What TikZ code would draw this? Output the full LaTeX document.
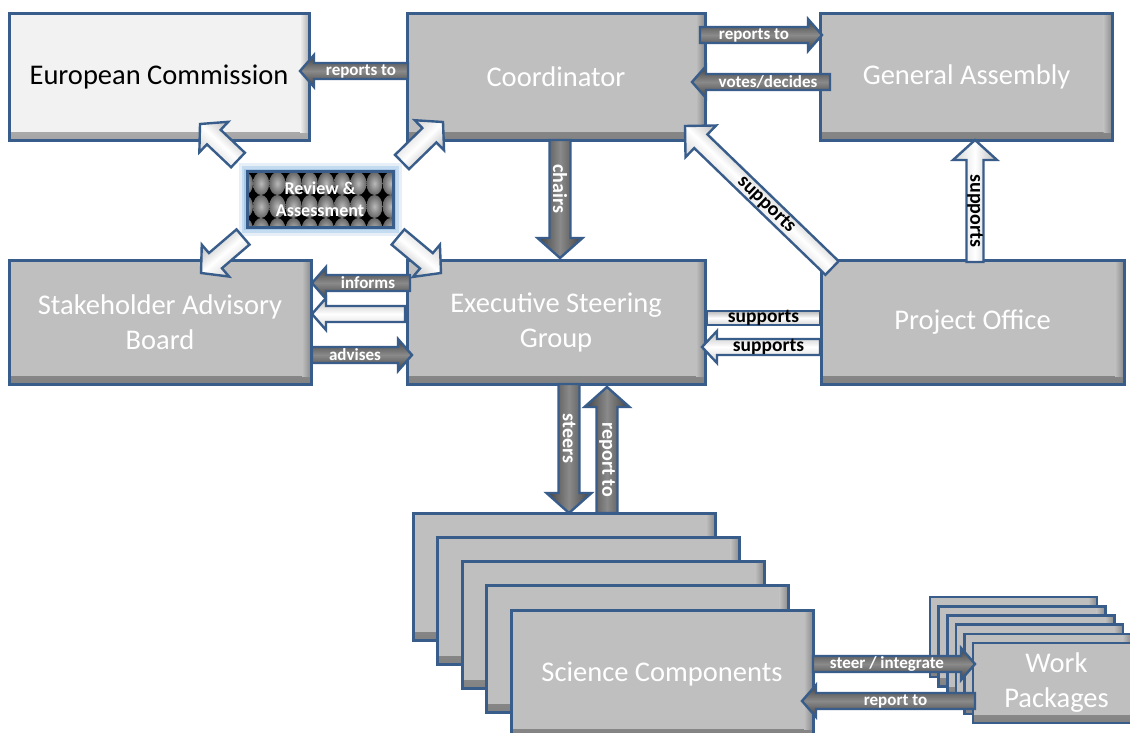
\documentclass[tikz,border=0pt]{standalone}
\usepackage{fontspec}
\setmainfont{Carlito}
\usetikzlibrary{calc}

\definecolor{boxgray}{HTML}{BFBFBF}
\definecolor{ecfill}{HTML}{F2F2F2}
\definecolor{edgeblue}{RGB}{56,93,138}
\definecolor{glowblue}{RGB}{157,195,230}
\definecolor{arrowdark}{HTML}{404040}
\definecolor{arrowmid}{HTML}{8A8A8A}

\tikzset{
  boxshade/.style={path picture={
    \shade[top color=#1, bottom color=#1!68!black]
      ([yshift=8pt]path picture bounding box.south west) rectangle (path picture bounding box.south east);
    \shade[left color=#1, right color=#1!72!black]
      ([xshift=-9pt]path picture bounding box.north east) rectangle ([yshift=8pt]path picture bounding box.south east);
  }},
  mainbox/.style={draw=edgeblue, line width=3pt, fill=boxgray, boxshade=boxgray,
    text=white, align=center, inner sep=0pt,
    font=\fontsize{28.5}{35}\selectfont},
  darkarrow/.style={draw=edgeblue, line width=2.4pt,
    top color=arrowdark, bottom color=arrowdark, middle color=arrowmid},
  lightarrow/.style={draw=edgeblue, line width=2.4pt,
    top color=gray!35, bottom color=gray!55, middle color=white},
  darkarrow label/.style={text=white, inner sep=0pt,
    font=\fontsize{17}{17}\selectfont\bfseries},
  lightarrow label/.style={text=black, inner sep=0pt,
    font=\fontsize{19.5}{19.5}\selectfont\bfseries},
  biglabel/.style={font=\fontsize{20}{20}\selectfont\bfseries},
  glow/.style={draw=glowblue, line width=#1},
}

% block arrow: #1 look, #2 tail, #3 tip, #4 shaft width, #5 head width,
% #6 head length, #7 label options, #8 label
\newcommand\barrow[8]{%
  \path let \p1=(#2), \p2=(#3),
    \n1={atan2(\y2-\y1,\x2-\x1)}, \n2={veclen(\x2-\x1,\y2-\y1)} in
    \pgfextra{\pgfmathsetmacro\arwA{\n1}\global\let\arwangle\arwA
              \pgfmathsetmacro\arwL{\n2}\global\let\arwlen\arwL};
  \begin{scope}[transform canvas={shift={(#2)},rotate=\arwangle}]
    \path[#1] (0pt,{-#4*0.5pt}) -- ({(\arwlen-#6)*1pt},{-#4*0.5pt})
      -- ({(\arwlen-#6)*1pt},{-#5*0.5pt}) -- ({\arwlen*1pt},0pt)
      -- ({(\arwlen-#6)*1pt},{#5*0.5pt}) -- ({(\arwlen-#6)*1pt},{#4*0.5pt})
      -- (0pt,{#4*0.5pt}) -- cycle;
    \node[#1 label,#7] at ({(\arwlen-#6)*0.5pt},0pt) {#8};
  \end{scope}}

\begin{document}
\begin{tikzpicture}[x=1pt,y=-1pt]
\useasboundingbox (0,0) rectangle (1130,733);
\fill[white] (0,0) rectangle (1130,733);

% governance boxes
\node[mainbox, fill=ecfill, boxshade=ecfill, text=black,
      minimum width=300pt, minimum height=127pt] (ec) at (159,77) {European Commission};
\node[mainbox, minimum width=298pt, minimum height=127pt] (coord) at (556,77) {Coordinator};
\node[mainbox, minimum width=292pt, minimum height=127pt] (ga) at (966.5,77) {General Assembly};
\node[mainbox, minimum width=302pt, minimum height=124pt] (sab) at (160,322.5) {Stakeholder Advisory\\Board};
\node[mainbox, minimum width=298pt, minimum height=124pt] (esg) at (556,322.5) {Executive Steering\\Group};
\node[mainbox, minimum width=303pt, minimum height=124pt] (po) at (972.5,322.5) {Project Office};

% review & assessment: soft glow, oval pattern, then the framed label
\draw[glow=17pt, opacity=0.25] (247,172) rectangle (393,227);
\draw[glow=11pt, opacity=0.45] (247,172) rectangle (393,227);
\draw[glow=6pt, opacity=0.7] (247,172) rectangle (393,227);
\begin{scope}
  \clip (247,172) rectangle (393,227);
  \fill[black] (247,172) rectangle (393,227);
  \foreach \i in {0,...,9} \foreach \j in {0,1,2}
    \shade[inner color=gray!55, outer color=gray!80!black]
      ({244.9+16.2*\i},{183.5+23*\j}) ellipse (8.1 and 11.5);
\end{scope}
\node[draw=edgeblue, line width=3pt, minimum width=146pt, minimum height=55pt,
      inner sep=0pt, align=center, text=white,
      font=\fontsize{18}{22}\selectfont\bfseries] (ra) at (320,199.5) {Review \&\\Assessment};

% science components stack
\foreach \k in {1,...,4}
  \node[mainbox, minimum width=302pt, minimum height=127pt] (sc\k)
    at ({564+24.5*(\k-1)},{576.5+24.3*(\k-1)}) {};
\node[mainbox, minimum width=302pt, minimum height=127pt] (sc5) at (662,673.7) {Science Components};

% work packages stack
\foreach \k in {1,...,5}
  \node[mainbox, line width=2.6pt, minimum width=167pt, minimum height=80pt] (wp\k)
    at ({1013.5+8.6*(\k-1)},{637+9.2*(\k-1)}) {};
\node[mainbox, line width=2.6pt, minimum width=167pt, minimum height=80pt] (wp6) at (1056.5,683) {Work\\Packages};

% connector end points
\coordinate (ec-rep-s) at (408,71);    \coordinate (ec-rep-e) at (300,71);
\coordinate (ga-rep-s) at (700,35);    \coordinate (ga-rep-e) at (822,35);
\coordinate (ga-vote-s) at (830,82);   \coordinate (ga-vote-e) at (692,82);
\coordinate (sab-inf-s) at (410,283);  \coordinate (sab-inf-e) at (312,283);
\coordinate (sab-out-s) at (405,314);  \coordinate (sab-out-e) at (312,314);
\coordinate (sab-adv-s) at (312,355);  \coordinate (sab-adv-e) at (412,355);
\coordinate (po-sup1-s) at (820,318);  \coordinate (po-sup1-e) at (707,318);
\coordinate (po-sup2-s) at (820,347);  \coordinate (po-sup2-e) at (702,347);
\coordinate (chairs-s) at (560,140);   \coordinate (chairs-e) at (560,258);
\coordinate (steers-s) at (569,384);   \coordinate (steers-e) at (569,513);
\coordinate (repto-s) at (607,513);    \coordinate (repto-e) at (607,387);
\coordinate (po-co-s) at (832,268);    \coordinate (po-co-e) at (685,126);
\coordinate (po-ga-s) at (975,262);    \coordinate (po-ga-e) at (975,140);
\coordinate (wp-st-s) at (813,664);    \coordinate (wp-st-e) at (975,664);
\coordinate (wp-rep-s) at (975,701);   \coordinate (wp-rep-e) at (802,701);
\coordinate (ra-ec-s) at (238,160);    \coordinate (ra-ec-e) at (200,124);
\coordinate (ra-co-s) at (402,162);    \coordinate (ra-co-e) at (443,122);
\coordinate (ra-sab-s) at (243,237);   \coordinate (ra-sab-e) at (201,273);
\coordinate (ra-esg-s) at (398,237);   \coordinate (ra-esg-e) at (441,273);

% horizontal connectors
\barrow{darkarrow}{ec-rep-s}{ec-rep-e}{16}{32}{14}{rotate=180}{reports to}
\barrow{darkarrow}{ga-rep-s}{ga-rep-e}{16}{32}{14}{}{reports to}
\barrow{darkarrow}{ga-vote-s}{ga-vote-e}{16}{32}{14}{rotate=180}{votes/decides}
\barrow{darkarrow}{sab-inf-s}{sab-inf-e}{16}{32}{14}{rotate=180}{informs}
\barrow{lightarrow}{sab-out-s}{sab-out-e}{16}{32}{14}{rotate=180}{}
\barrow{darkarrow}{sab-adv-s}{sab-adv-e}{16}{32}{14}{}{advises}
\barrow{lightarrow}{po-sup1-s}{po-sup1-e}{14}{14}{0}{rotate=180}{supports}
\barrow{lightarrow}{po-sup2-s}{po-sup2-e}{16}{32}{15}{rotate=180}{supports}
\barrow{darkarrow}{wp-st-s}{wp-st-e}{16}{32}{14}{}{steer / integrate}
\barrow{darkarrow}{wp-rep-s}{wp-rep-e}{16}{32}{14}{rotate=180}{report to}

% vertical and diagonal connectors
\barrow{darkarrow}{chairs-s}{chairs-e}{21}{45}{20}{biglabel}{chairs}
\barrow{darkarrow}{steers-s}{steers-e}{21}{45}{20}{biglabel}{steers}
\barrow{darkarrow}{repto-s}{repto-e}{21}{45}{20}{biglabel,rotate=180}{report to}
\barrow{lightarrow}{po-co-s}{po-co-e}{19}{44}{22}{biglabel,rotate=180}{supports}
\barrow{lightarrow}{po-ga-s}{po-ga-e}{17}{44}{20}{biglabel,rotate=180}{supports}

% review & assessment links
\barrow{lightarrow}{ra-ec-s}{ra-ec-e}{20}{42}{19}{}{}
\barrow{lightarrow}{ra-co-s}{ra-co-e}{20}{42}{19}{}{}
\barrow{lightarrow}{ra-sab-s}{ra-sab-e}{20}{42}{19}{}{}
\barrow{lightarrow}{ra-esg-s}{ra-esg-e}{20}{42}{19}{}{}
\end{tikzpicture}
\end{document}
